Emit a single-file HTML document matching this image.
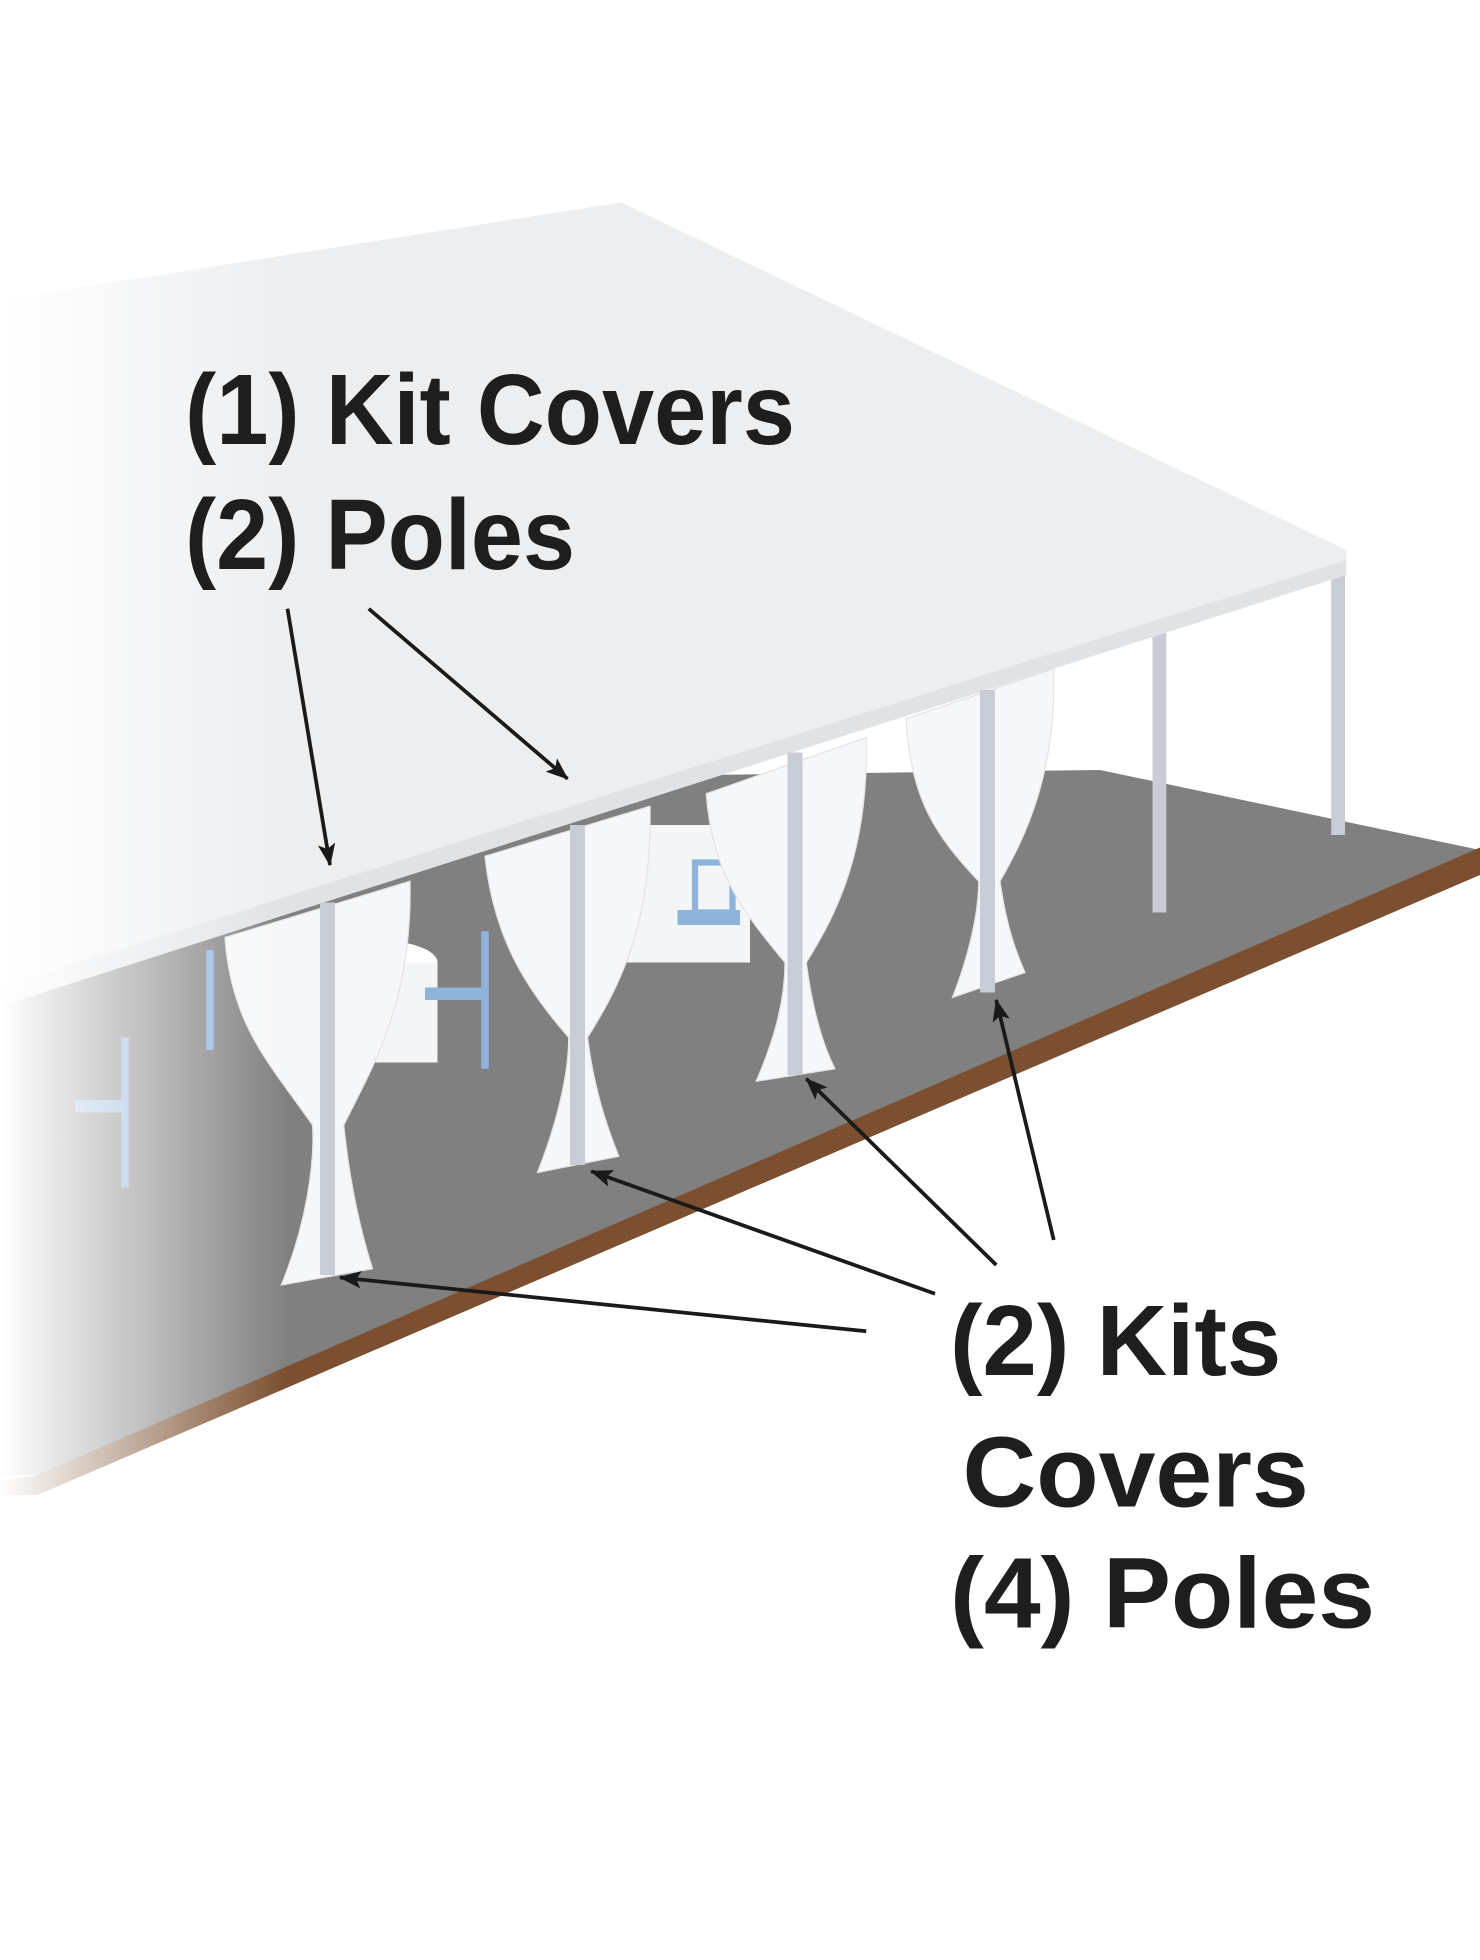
<!DOCTYPE html>
<html><head><meta charset="utf-8"><style>
html,body{margin:0;padding:0;background:#fff;width:1480px;height:1960px;overflow:hidden}
svg{display:block}
</style></head><body>
<svg width="1480" height="1960" viewBox="0 0 1184 1568" xmlns="http://www.w3.org/2000/svg">
<defs>
<linearGradient id="fade" x1="0" x2="1" y1="0" y2="0">
<stop offset="0" stop-color="#fff" stop-opacity="1"/>
<stop offset="0.6" stop-color="#fff" stop-opacity="0.4"/>
<stop offset="1" stop-color="#fff" stop-opacity="0"/>
</linearGradient>
<marker id="ah" markerWidth="18" markerHeight="14" refX="17" refY="7" orient="auto" markerUnits="userSpaceOnUse" viewBox="0 0 18 14">
<path d="M0,0 L18,7 L0,14 L4,7 z" fill="#1a1a1a"/>
</marker>
</defs>
<polygon points="0,800 560,620 880,616 1184,680 1184,692 30,1180 0,1180" fill="#808080"/>
<polygon points="1184,678 1184,700 30,1196 0,1196 0,1185 30,1180" fill="#7b4f2f"/>
<rect x="922" y="500" width="11" height="230" fill="#c8ccd4"/>
<rect x="1065" y="450" width="11" height="218" fill="#c8ccd4"/>
<ellipse cx="300" cy="770" rx="50" ry="18" fill="#fff"/>
<rect x="250" y="770" width="100" height="80" fill="#f4f5f6"/>
<rect x="340" y="790" width="50" height="10" fill="#8fb4dc"/>
<rect x="385" y="745" width="6" height="110" fill="#8fb4dc"/>
<rect x="165" y="760" width="6" height="80" fill="#8fb4dc"/>
<rect x="500" y="660" width="100" height="110" fill="#f4f5f6"/>
<rect x="542" y="728" width="50" height="12" fill="#8fb4dc"/>
<rect x="556" y="690" width="30" height="40" fill="none" stroke="#8fb4dc" stroke-width="5"/>
<rect x="60" y="880" width="40" height="10" fill="#8fb4dc"/>
<rect x="97" y="830" width="6" height="120" fill="#8fb4dc"/>
<polygon points="0,240 497,162 1077,440 1077,458 0,800" fill="#eceef0"/>
<polygon points="0,790 1077,448 1077,460 0,805" fill="#e0e3e6"/>
<g fill="#f6f7f8" stroke="#e2e4e7" stroke-width="1">
<path d="M180,750 L328,705 C330,800 300,850 275,900 C280,950 290,990 298,1015 L225,1028 C245,980 252,930 250,900 C215,850 185,820 180,750z"/>
<path d="M388,685 L520,645 C522,740 495,790 470,830 C475,870 485,900 495,925 L430,938 C445,900 455,860 455,830 C420,790 395,750 388,685z"/>
<path d="M565,635 L693,590 C695,680 670,730 645,770 C650,810 660,840 668,855 L605,865 C620,830 628,800 628,770 C595,730 570,700 565,635z"/>
<path d="M725,575 L843,535 C845,620 820,670 800,705 C805,740 812,760 820,778 L762,798 C775,765 783,730 783,705 C750,670 728,640 725,575z"/>
</g>
<rect x="256" y="722" width="12" height="298" fill="#c8ccd4"/>
<rect x="456" y="660" width="12" height="272" fill="#c8ccd4"/>
<rect x="630" y="602" width="12" height="258" fill="#c8ccd4"/>
<rect x="784" y="552" width="12" height="242" fill="#c8ccd4"/>
<rect x="0" y="150" width="230" height="1060" fill="url(#fade)"/>
<g font-family="Liberation Sans, sans-serif" font-weight="bold" fill="#1e1e1e" font-size="80">
<text x="148" y="355" textLength="488" lengthAdjust="spacingAndGlyphs">(1) Kit Covers</text>
<text x="148" y="455" textLength="312" lengthAdjust="spacingAndGlyphs">(2) Poles</text>
<text x="760" y="1100" textLength="265" lengthAdjust="spacingAndGlyphs">(2) Kits</text>
<text x="770" y="1205" textLength="277" lengthAdjust="spacingAndGlyphs">Covers</text>
<text x="760" y="1302" textLength="340" lengthAdjust="spacingAndGlyphs">(4) Poles</text>
</g>
<g stroke="#1a1a1a" stroke-width="3" fill="none" marker-end="url(#ah)">
<line x1="230" y1="487" x2="264" y2="692"/>
<line x1="295" y1="487" x2="454" y2="623"/>
<line x1="693" y1="1065" x2="272" y2="1022"/>
<line x1="748" y1="1035" x2="473" y2="937"/>
<line x1="797" y1="1012" x2="645" y2="863"/>
<line x1="843" y1="992" x2="797" y2="800"/>
</g>
</svg>
</body></html>
